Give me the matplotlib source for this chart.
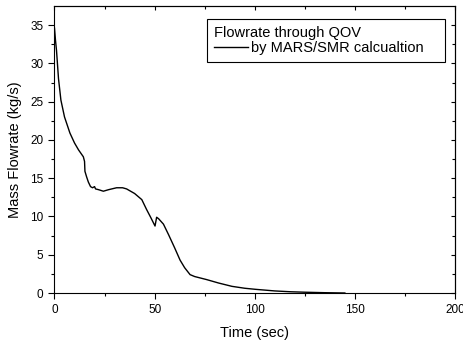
import numpy as np
import matplotlib
matplotlib.use("Agg")
import matplotlib.pyplot as plt

plt.rcParams["font.family"] = ["Liberation Sans", "DejaVu Sans"]

# 读图得到的数据点 (time [s], flowrate [kg/s])
time_s = [0, 0.5, 1, 2, 3.2, 5, 7.7, 10, 12, 14.4, 15.0, 15.2, 16.0, 16.9, 18, 19, 20, 20.5,
          22, 24.4, 27, 31, 34, 36, 40, 43.6, 46, 48, 50.2, 51, 52, 54.4, 57, 60, 62.7,
          65, 67.7, 70, 76, 82, 88.6, 95, 100.4, 110, 118, 125.4, 135, 145]
flow = [34.6, 33.0, 31.7, 28.0, 25.2, 23.0, 20.9, 19.6, 18.7, 17.8, 17.2, 15.9, 15.2, 14.5, 13.9,
        13.75, 13.9, 13.6, 13.5, 13.3, 13.5, 13.75, 13.75, 13.6, 13.0, 12.2, 10.9, 9.9, 8.75,
        9.9, 9.7, 9.0, 7.6, 5.9, 4.3, 3.3, 2.4, 2.15, 1.75, 1.3, 0.87, 0.62, 0.48, 0.27, 0.16,
        0.1, 0.04, 0.0]

x_major = [0, 50, 100, 150, 200]
x_minor = [25, 75, 125, 175]
y_major = [0, 5, 10, 15, 20, 25, 30, 35]
y_minor = np.arange(2.5, 37.5, 5)

fig = plt.figure(figsize=(4.64, 3.43), dpi=100)
ax = fig.add_axes([54.5 / 464, 1 - 293 / 343, 400.5 / 464, 287 / 343])

ax.plot(time_s, flow, color="black", linewidth=1.0,
        label="by MARS/SMR calcualtion")

ax.set_xlim(0, 200)
ax.set_ylim(0, 37.5)
ax.set_xticks(x_major)
ax.set_xticks(x_minor, minor=True)
ax.set_yticks(y_major)
ax.set_yticks(y_minor, minor=True)

ax.tick_params(axis="both", which="both", direction="out", labelsize=8.5, width=0.8,
               top=False, right=False)
ax.tick_params(which="major", length=4.5)
ax.tick_params(which="minor", length=2.5)

# 顶部与右侧刻度朝内
sec_x = ax.secondary_xaxis("top")
sec_x.set_xticks(x_major)
sec_x.set_xticks(x_minor, minor=True)
sec_x.tick_params(which="both", direction="in", labeltop=False, width=0.8)
sec_x.tick_params(which="major", length=3)
sec_x.tick_params(which="minor", length=2)
sec_y = ax.secondary_yaxis("right")
sec_y.set_yticks(y_major)
sec_y.set_yticks(y_minor, minor=True)
sec_y.tick_params(which="both", direction="in", labelright=False, width=0.8)
sec_y.tick_params(which="major", length=3)
sec_y.tick_params(which="minor", length=2)

for s in ax.spines.values():
    s.set_linewidth(0.8)
for name, s in sec_x.spines.items():
    s.set_linewidth(0.8)
    s.set_visible(name == "top")
for name, s in sec_y.spines.items():
    s.set_linewidth(0.8)
    s.set_visible(name == "right")

ax.set_xlabel("Time (sec)", fontsize=10.5, labelpad=7)
ax.set_ylabel("Mass Flowrate (kg/s)", fontsize=10.5, labelpad=6)

leg = ax.legend(title="Flowrate through QOV", loc="upper left", mode="expand",
                bbox_to_anchor=(207 / 464, 1 - 60 / 343, 238 / 464, 41 / 343),
                bbox_transform=fig.transFigure,
                fontsize=10.5, title_fontsize=10.5, fancybox=False, framealpha=1,
                edgecolor="black", handlelength=2.3, borderpad=0.5,
                handletextpad=0.25, borderaxespad=0, labelspacing=0.05)
leg.get_frame().set_linewidth(0.8)
leg._legend_box.align = "left"

fig.savefig("out.png", dpi=100)
